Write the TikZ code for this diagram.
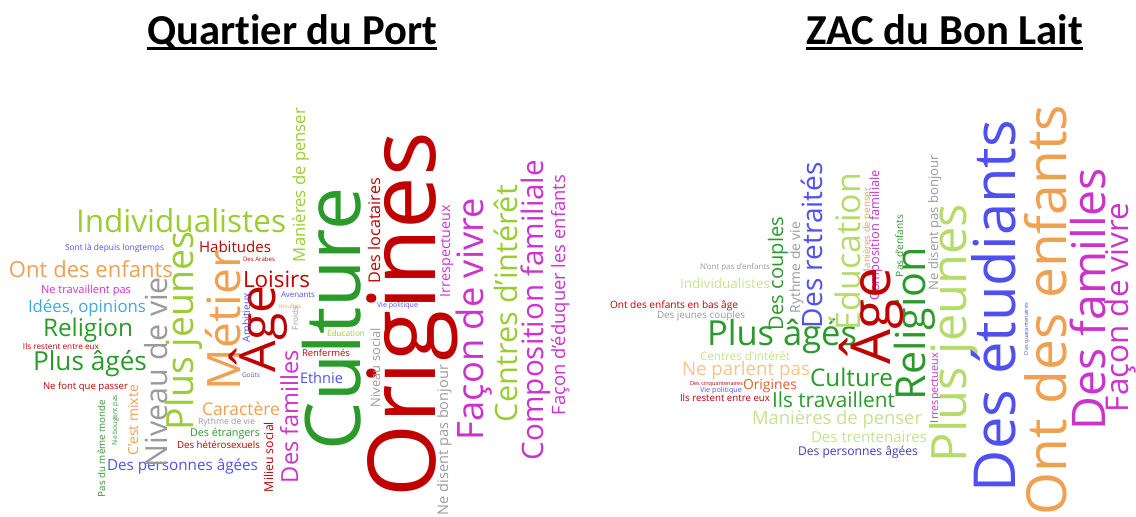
\documentclass[tikz,border=0pt]{standalone}
\usepackage{fontspec}
\setmainfont{Open Sans}
\newfontfamily\titlefont[Ligatures=CommonOff]{Carlito}
\usepackage{xcolor}
\definecolor{CloudRed}{HTML}{C00000}
\definecolor{CloudGreen}{HTML}{2A9A2A}
\definecolor{CloudLime}{HTML}{9ACD32}
\definecolor{CloudLight}{HTML}{B5DC6A}
\definecolor{CloudPale}{HTML}{C5E38E}
\definecolor{CloudOrange}{HTML}{EFA050}
\definecolor{CloudPeach}{HTML}{F5C58A}
\definecolor{CloudRust}{HTML}{E0602A}
\definecolor{CloudMagenta}{HTML}{CC33CC}
\definecolor{CloudGray}{HTML}{9A9A9A}
\definecolor{CloudBlue}{HTML}{5050F0}
\definecolor{CloudNavy}{HTML}{4040B8}
\definecolor{CloudSky}{HTML}{40A8E0}
\newcommand{\wfit}[2]{\resizebox{#1pt}{!}{#2}}

\begin{document}
\begin{tikzpicture}[x=1pt,y=-1pt,
    word/.style={inner sep=0pt,outer sep=0pt,anchor=base west,font=\fontsize{20}{24}\selectfont},
    upword/.style={word,rotate=90},
    title/.style={word,font=\titlefont\bfseries\fontsize{30}{36}\selectfont}]
    \useasboundingbox (0,0) rectangle (1136,517);

    \node[title] (titleport) at (147,44) {\wfit{290}{Quartier du Port}};
    \node[title] (titlelait) at (806,44) {\wfit{277}{ZAC du Bon Lait}};
    \draw[line width=2.6pt] ([yshift=-4.5pt]titleport.base west) -- ([yshift=-4.5pt]titleport.base east);
    \draw[line width=2.6pt] ([yshift=-4.5pt]titlelait.base west) -- ([yshift=-4.5pt]titlelait.base east);

    % Quartier du Port
    \foreach \px/\py/\len/\col/\txt [count=\i] in {
        76/232/210/CloudLime/Individualistes, 65/250/99/CloudBlue/Sont là depuis longtemps,
        199/252/72/CloudRed/Habitudes, 243/261/32/CloudRed/Des Arabes,
        9/277/164/CloudOrange/Ont des enfants, 243/287/67/CloudRed/Loisirs,
        281/297/34/CloudBlue/Avenants, 279/308/22/CloudOrange/Incultes,
        41/293/90/CloudMagenta/Ne travaillent pas, 28/312/118/CloudSky/{Idées, opinions},
        43/336/90/CloudGreen/Religion, 23/349/76/CloudRed/Ils restent entre eux,
        33/370/114/CloudGreen/Plus âgés, 43/389/85/CloudRed/Ne font que passer,
        242/377/18/CloudBlue/Goûts, 202/415/78/CloudOrange/Caractère,
        198/424/57/CloudGray/Rythme de vie, 190/436/70/CloudGreen/Des étrangers,
        177/448/83/CloudRed/Des hétérosexuels, 107/470/151/CloudBlue/Des personnes âgées,
        300/383/43/CloudBlue/Ethnie, 302/356/48/CloudRed/Renfermés,
        327/336/38/CloudLime/Éducation, 377/307/41/CloudBlue/Vie politique}
        \node[word,text=\col] (porth\i) at (\px,\py) {\wfit{\len}{\txt}};
    \foreach \px/\py/\len/\col/\txt [count=\i] in {
        305/262/154/CloudLime/Manières de penser, 167/467/190/CloudGray/Niveau de vie,
        193/430/198/CloudLime/Plus jeunes, 240/390/140/CloudOrange/Métier,
        275/372/87/CloudRed/Âge, 250/342/49/CloudBlue/Ambitieux,
        298/330/23/CloudGray/Froids, 360/450/262/CloudGreen/Culture,
        435/497/365/CloudRed/Origines, 380/283/105/CloudRed/Des locataires,
        450/297/92/CloudMagenta/Irrespectueux, 483/440/242/CloudMagenta/Façon de vivre,
        517/422/237/CloudLime/Centres d'intérêt, 543/460/300/CloudMagenta/Composition familiale,
        565/415/240/CloudMagenta/Façon d'éduquer les enfants, 380/407/79/CloudGray/Niveau social,
        448/515/150/CloudGray/Ne disent pas bonjour, 298/483/133/CloudMagenta/Des familles,
        273/492/70/CloudRed/Milieu social, 138/455/70/CloudOrange/C'est mixte,
        105/497/97/CloudGreen/Pas du même monde, 117/445/50/CloudGreen/Ne bougent pas}
        \node[upword,text=\col] (portv\i) at (\px,\py) {\wfit{\len}{\txt}};

    % ZAC du Bon Lait
    \foreach \px/\py/\len/\col/\txt [count=\i] in {
        707/345/150/CloudGreen/Plus âgés, 810/386/83/CloudGreen/Culture,
        682/375/128/CloudPeach/Ne parlent pas, 743/389/54/CloudRust/Origines,
        772/407/123/CloudGreen/Ils travaillent, 752/424/170/CloudPale/Manières de penser,
        811/442/116/CloudPale/Des trentenaires, 798/455/120/CloudNavy/Des personnes âgées,
        680/288/90/CloudPale/Individualistes, 700/269/70/CloudGray/N'ont pas d'enfants,
        610/308/128/CloudRed/Ont des enfants en bas âge, 657/318/88/CloudGray/Des jeunes couples,
        700/360/90/CloudPale/Centres d'intérêt, 690/385/53/CloudRed/Des cinquantenaires,
        700/392/42/CloudBlue/Vie politique, 680/401/90/CloudRed/Ils restent entre eux}
        \node[word,text=\col] (laith\i) at (\px,\py) {\wfit{\len}{\txt}};
    \foreach \px/\py/\len/\col/\txt [count=\i] in {
        783/330/113/CloudGreen/Des couples, 800/313/91/CloudGray/Rythme de vie,
        822/328/166/CloudBlue/Des retraités, 860/330/157/CloudLight/Éducation,
        870/277/89/CloudOrange/Manières de penser, 879/300/130/CloudMagenta/Composition familiale,
        903/277/62/CloudGreen/Pas d'enfants, 938/290/135/CloudGray/Ne disent pas bonjour,
        966/462/258/CloudLight/Plus jeunes, 1015/492/372/CloudBlue/Des étudiants,
        1066/515/410/CloudOrange/Ont des enfants, 1105/430/262/CloudMagenta/Des familles,
        1128/412/209/CloudMagenta/Façon de vivre, 925/400/153/CloudGreen/Religion,
        890/364/96/CloudRed/Âge, 938/423/70/CloudMagenta/Irrespectueux,
        1028/355/52/CloudBlue/Des quarantenaires}
        \node[upword,text=\col] (laitv\i) at (\px,\py) {\wfit{\len}{\txt}};
\end{tikzpicture}
\end{document}
